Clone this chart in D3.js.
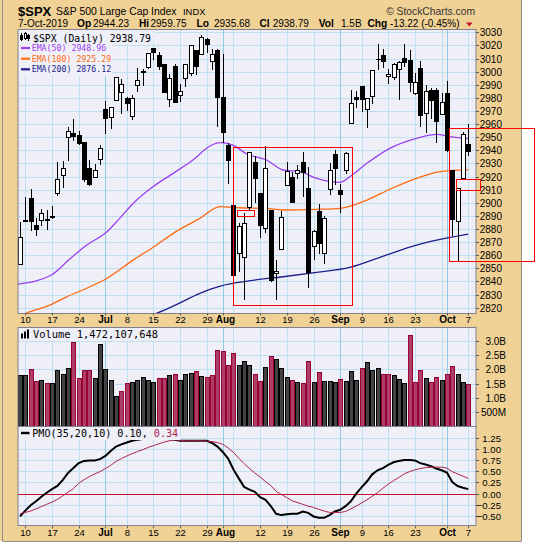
<!DOCTYPE html>
<html><head><meta charset="utf-8">
<script src="https://cdn.jsdelivr.net/npm/d3@7"></script>
<style>body{margin:0;background:#fff}svg{display:block}</style>
</head><body><svg id="c" width="543" height="543"></svg>
<script>
// ---------------- DATA ----------------
const dates = ["2019-06-07","2019-06-10","2019-06-11","2019-06-12","2019-06-13","2019-06-14","2019-06-17","2019-06-18","2019-06-19","2019-06-20","2019-06-21","2019-06-24","2019-06-25","2019-06-26","2019-06-27","2019-06-28","2019-07-01","2019-07-02","2019-07-03","2019-07-05","2019-07-08","2019-07-09","2019-07-10","2019-07-11","2019-07-12","2019-07-15","2019-07-16","2019-07-17","2019-07-18","2019-07-19","2019-07-22","2019-07-23","2019-07-24","2019-07-25","2019-07-26","2019-07-29","2019-07-30","2019-07-31","2019-08-01","2019-08-02","2019-08-05","2019-08-06","2019-08-07","2019-08-08","2019-08-09","2019-08-12","2019-08-13","2019-08-14","2019-08-15","2019-08-16","2019-08-19","2019-08-20","2019-08-21","2019-08-22","2019-08-23","2019-08-26","2019-08-27","2019-08-28","2019-08-29","2019-08-30","2019-09-03","2019-09-04","2019-09-05","2019-09-06","2019-09-09","2019-09-10","2019-09-11","2019-09-12","2019-09-13","2019-09-16","2019-09-17","2019-09-18","2019-09-19","2019-09-20","2019-09-23","2019-09-24","2019-09-25","2019-09-26","2019-09-27","2019-09-30","2019-10-01","2019-10-02","2019-10-03","2019-10-04","2019-10-07"];
const opens = [2852.87,2885.83,2903.27,2882.73,2886.24,2886.82,2889.75,2906.71,2920.55,2949.60,2952.71,2951.42,2945.78,2926.07,2919.66,2932.94,2971.41,2964.66,2978.08,2984.25,2979.77,2965.52,2989.30,2999.62,3003.36,3017.80,3012.13,3005.10,2978.87,3004.26,2981.93,2994.74,2998.77,3016.26,3013.25,3024.47,3007.66,3016.22,2980.32,2943.90,2898.07,2861.18,2858.65,2896.21,2930.51,2907.07,2880.72,2894.15,2846.20,2864.74,2913.48,2919.01,2922.04,2930.94,2911.07,2866.70,2893.14,2861.28,2910.37,2937.09,2909.01,2924.67,2960.60,2980.33,2988.43,2971.01,2981.41,3009.08,3012.21,2996.41,2995.67,3001.50,3010.36,3008.42,2983.50,3002.43,2968.35,2985.73,2985.47,2967.07,2983.69,2924.78,2885.38,2918.56,2944.23];
const highs = [2884.97,2904.77,2910.61,2888.57,2895.24,2894.45,2897.27,2930.79,2931.74,2958.06,2964.15,2954.92,2946.52,2932.59,2929.30,2943.98,2977.93,2973.21,2995.84,2994.03,2980.76,2981.90,3002.98,3002.33,3013.92,3017.80,3015.02,3005.26,2998.28,3006.02,2990.71,3005.90,3019.59,3016.31,3027.98,3025.61,3017.19,3017.40,3013.59,2945.50,2898.07,2884.40,2892.17,2938.72,2935.75,2907.58,2943.31,2894.15,2856.67,2893.63,2931.00,2923.63,2928.73,2939.08,2927.01,2879.27,2898.79,2890.03,2930.50,2940.43,2914.39,2938.84,2985.86,2985.03,2989.43,2979.39,3000.93,3020.74,3017.33,3002.19,3006.21,3007.83,3021.19,3016.37,2999.15,3007.98,2989.82,2987.28,2987.31,2983.85,2992.53,2924.78,2911.13,2953.74,2959.75];
const lows = [2852.87,2885.51,2878.53,2874.68,2881.99,2879.62,2887.30,2905.44,2911.43,2931.50,2946.87,2944.05,2916.01,2912.99,2918.57,2929.05,2952.22,2955.92,2977.96,2967.97,2970.09,2963.44,2984.62,2988.80,3001.87,3008.77,3001.15,2984.25,2973.09,2975.86,2976.65,2988.56,2996.82,2997.24,3012.59,3014.30,3000.94,2958.08,2945.23,2914.11,2822.12,2847.42,2825.71,2894.47,2900.15,2873.14,2877.05,2839.64,2825.51,2864.74,2913.48,2899.60,2917.91,2904.51,2834.97,2856.00,2860.59,2853.05,2905.67,2913.32,2891.85,2921.86,2960.60,2972.51,2969.39,2957.01,2975.31,3000.92,3002.90,2990.67,2993.73,2978.57,3003.16,2984.68,2982.23,2957.73,2952.86,2963.71,2945.53,2967.07,2938.70,2874.93,2855.94,2918.56,2935.68];
const closes = [2873.34,2886.73,2885.72,2879.84,2891.64,2886.98,2889.67,2917.75,2926.46,2954.18,2950.46,2945.35,2917.38,2913.78,2924.92,2941.76,2964.33,2973.01,2995.82,2990.41,2975.95,2979.63,2993.07,2999.91,3013.77,3014.30,3004.04,2984.42,2995.11,2976.61,2985.03,3005.47,3019.56,3003.67,3025.86,3020.97,3013.18,2980.38,2953.56,2932.05,2844.74,2881.77,2883.98,2938.09,2918.65,2882.70,2926.32,2840.60,2847.60,2888.68,2923.65,2900.51,2924.43,2922.95,2847.11,2878.38,2869.16,2887.94,2924.58,2926.46,2906.27,2937.78,2976.00,2978.71,2978.43,2979.39,3000.93,3009.57,3007.39,2997.96,3005.70,3006.73,3006.79,2992.07,2991.78,2966.60,2984.87,2977.62,2961.79,2976.74,2940.25,2887.61,2910.63,2952.01,2938.79];
const prevClose = 2843.49;
// volume in billions of shares
const volumes = [1.80,1.80,2.01,1.59,1.63,1.52,1.52,1.98,1.84,2.05,2.96,1.70,1.98,1.98,1.70,2.89,2.01,1.63,1.06,1.24,1.52,1.56,1.63,1.74,1.63,1.56,1.70,1.70,1.80,1.84,1.63,1.84,1.88,1.94,1.77,1.74,1.80,2.68,2.65,2.15,2.58,2.15,2.30,2.15,1.84,1.59,2.08,2.47,2.37,2.05,1.73,1.63,1.56,1.52,2.30,1.56,1.91,1.59,1.59,1.56,1.66,1.59,1.94,1.63,2.05,2.26,1.98,2.05,1.84,1.84,1.80,1.66,1.52,3.21,1.56,1.98,1.70,1.56,1.73,1.63,1.84,2.12,1.84,1.56,1.472];
// EMA lines (day index, value)
const ema50Idx = [-0.4,5.9,9.1,12.5,16.3,18.1,21.2,24.9,28.7,32.4,35.6,37.5,39.9,42.5,46.2,49.3,52.5,55.6,60,61.8,65,69.3,74.3,78.1,80.6,84];
const ema50Val = [2838,2844.9,2856.3,2867.8,2877.9,2885.5,2899.5,2912.2,2922.4,2932.6,2943.3,2945.8,2944,2937.2,2932.6,2925,2923.7,2918.6,2915.6,2919.9,2930.1,2941.5,2949.1,2952.2,2950.4,2948.96];
const ema100Idx = [-0.4,1.25,5.6,8.75,13.1,16.25,21.2,25.6,28.7,33.7,37.5,41.2,46.2,49.3,55.6,60,65,69.3,74.3,78.7,84];
const ema100Val = [2813.2,2816,2822,2828.3,2836,2842.3,2856.3,2867.8,2876.7,2888.1,2897,2896.2,2895.7,2894.5,2895,2895.8,2902.1,2910.3,2918.6,2923.7,2925.29];
const ema200Idx = [24.3,28.7,33.7,37.5,43.1,49.3,55.6,61.8,68.1,74.3,80.6,84];
const ema200Val = [2813.5,2821.2,2831,2836.5,2840.6,2843.6,2847,2850.8,2859.4,2867.8,2873.6,2876.12];
// PMO(35,20,10) and its signal, one value per day
const pmo = [-0.51,-0.38,-0.26,-0.17,-0.07,0.02,0.10,0.17,0.30,0.46,0.57,0.68,0.73,0.74,0.74,0.77,0.84,0.95,1.05,1.10,1.14,1.18,1.20,1.22,1.23,1.23,1.23,1.23,1.22,1.20,1.18,1.18,1.18,1.18,1.18,1.18,1.13,1.05,0.93,0.78,0.54,0.34,0.15,0.09,0.04,-0.08,-0.14,-0.28,-0.45,-0.48,-0.46,-0.45,-0.45,-0.40,-0.43,-0.51,-0.54,-0.54,-0.48,-0.40,-0.36,-0.28,-0.17,0.00,0.14,0.27,0.43,0.52,0.57,0.64,0.70,0.73,0.75,0.75,0.74,0.68,0.65,0.61,0.56,0.52,0.47,0.26,0.17,0.13,0.10];
const pmoSignal = [-0.45,-0.42,-0.39,-0.34,-0.29,-0.24,-0.19,-0.13,-0.05,0.03,0.11,0.23,0.31,0.38,0.44,0.49,0.56,0.63,0.72,0.78,0.84,0.89,0.94,0.98,1.03,1.07,1.11,1.15,1.18,1.20,1.19,1.18,1.18,1.18,1.18,1.17,1.16,1.14,1.10,1.02,0.92,0.79,0.67,0.56,0.46,0.37,0.27,0.18,0.05,-0.02,-0.09,-0.16,-0.20,-0.24,-0.28,-0.31,-0.35,-0.39,-0.42,-0.42,-0.42,-0.40,-0.34,-0.28,-0.21,-0.14,-0.06,0.02,0.12,0.21,0.29,0.36,0.44,0.49,0.53,0.56,0.58,0.59,0.59,0.59,0.57,0.49,0.44,0.39,0.34];
// axis ticks
const priceTicks = d3.range(2820, 3031, 10);
const volTicks = [0.5,1.0,1.5,2.0,2.5,3.0];
const volTickLabels = ["500M","1.0B","1.5B","2.0B","2.5B","3.0B"];
const pmoTicks = [-0.5,-0.25,0,0.25,0.5,0.75,1.0,1.25];
const weekLines = [1,6,11,16,20,25,30,35,40,45,50,55,60,64,69,74,79,84];
const monthLines = [16,38,60,80];
const xLabelIdx = [1,6,11,16,20,25,30,35,38,45,50,55,60,64,69,74,80,84];
const xLabelText = ["10","17","24","Jul","8","15","22","29","Aug","12","19","26","Sep","9","16","23","Oct","7"];
// annotation boxes (day index range, price range)
const boxI0 = [40.0, 40.75, 80.44, 81.64];
const boxI1 = [62.3, 43.9, 96.36, 86.06];
const boxP0 = [2821.8, 2889.8, 2855.6, 2909.5];
const boxP1 = [2942.3, 2894.2, 2956.8, 2917.9];

// ---------------- DRAW ----------------
const svg = d3.select("#c");
const TAN="#F0D296", PLOT="#EFEFF7", GRID="#BEE0F0", MGRID="#8ECBE6", BORDER="#808090";
const SANS="'Liberation Sans', Arial, sans-serif", MONO="'DejaVu Sans Mono', monospace";
const L=18, R=476;
const P = {top:29.5,bottom:313.5}, V={top:327.5,bottom:426.5}, M={top:426.5,bottom:525.5};

const x = d3.scaleLinear().domain([-0.375, 85.45]).range([L, R]);
const yP = d3.scaleLinear().domain([2820,3030]).range([307.7,32.3]);
const yV = d3.scaleLinear().domain([0,3]).range([426.2,341]);
const yM = d3.scaleLinear().domain([-0.5,1.25]).range([516,437.6]);
const cx = i => Math.round(x(i));

svg.append("rect").attr("width",543).attr("height",543).attr("fill","#fff");
svg.append("rect").attr("x",0).attr("y",0).attr("width",521).attr("height",541).attr("fill",TAN);
svg.append("path").attr("d","M2.5,0V541.5H521.5V0").attr("fill","none").attr("stroke","#8c8c8c");

const defs = svg.append("defs");
function panel(id, p, yTicksPx){
  defs.append("clipPath").attr("id",id).append("rect").attr("x",L).attr("y",p.top).attr("width",R-L).attr("height",p.bottom-p.top);
  svg.append("rect").attr("x",L).attr("y",p.top).attr("width",R-L).attr("height",p.bottom-p.top).attr("fill",PLOT);
  const g = svg.append("g").attr("clip-path",`url(#${id})`);
  g.selectAll(".h").data(yTicksPx).join("line").attr("x1",L).attr("x2",R)
    .attr("y1",d=>Math.round(d)+0.5).attr("y2",d=>Math.round(d)+0.5).attr("stroke",GRID);
  g.selectAll(".w").data(weekLines).join("line").attr("x1",i=>cx(i)+0.5).attr("x2",i=>cx(i)+0.5)
    .attr("y1",p.top).attr("y2",p.bottom).attr("stroke",GRID);
  g.selectAll(".m").data(monthLines).join("line").attr("x1",i=>cx(i)+0.5).attr("x2",i=>cx(i)+0.5)
    .attr("y1",p.top).attr("y2",p.bottom).attr("stroke",MGRID);
  return g;
}

// ---- price panel
const gP = panel("cp", P, priceTicks.map(yP));
const line = d3.line().x(d=>x(d[0])).y(d=>d[1]).curve(d3.curveMonotoneX);
function ema(idx, vals, color){
  gP.append("path").attr("d", line(idx.map((d,k)=>[d, yP(vals[k])]))).attr("fill","none")
    .attr("stroke",color).attr("stroke-width",1.3);
}
ema(ema200Idx, ema200Val, "#1E1E8C");
ema(ema100Idx, ema100Val, "#FF6A10");
ema(ema50Idx, ema50Val, "#9B40EE");
const cg = gP.append("g").attr("shape-rendering","crispEdges");
dates.forEach((d,i)=>{
  const c = cx(i);
  cg.append("line").attr("x1",c+0.5).attr("x2",c+0.5).attr("y1",yP(highs[i])).attr("y2",yP(lows[i])).attr("stroke","#000");
  const t = Math.min(yP(opens[i]),yP(closes[i])), b = Math.max(yP(opens[i]),yP(closes[i]));
  cg.append("rect").attr("x",c-1.5).attr("y",t).attr("width",4).attr("height",Math.max(b-t,0.8))
    .attr("fill", closes[i]>opens[i] ? "#fff" : "#000").attr("stroke","#000");
});
// legend
svg.append("rect").attr("x",L+0.5).attr("y",30).attr("width",135).attr("height",14).attr("fill",PLOT);
svg.append("rect").attr("x",L+0.5).attr("y",43).attr("width",94).attr("height",33).attr("fill",PLOT);
const ic = svg.append("g").attr("shape-rendering","crispEdges");
ic.append("line").attr("x1",21.5).attr("x2",21.5).attr("y1",33).attr("y2",41).attr("stroke","#000");
ic.append("rect").attr("x",20.5).attr("y",35.5).attr("width",2).attr("height",4).attr("fill","#000").attr("stroke","#000");
ic.append("line").attr("x1",25.5).attr("x2",25.5).attr("y1",32).attr("y2",40).attr("stroke","#000");
ic.append("rect").attr("x",24.5).attr("y",33.5).attr("width",2).attr("height",5).attr("fill","#fff").attr("stroke","#000");
ic.append("line").attr("x1",28.5).attr("x2",28.5).attr("y1",34).attr("y2",41).attr("stroke","#000");
ic.append("rect").attr("x",27.5).attr("y",35.5).attr("width",2).attr("height",3).attr("fill","#000").attr("stroke","#000");
svg.append("text").attr("x",33).attr("y",41.7).attr("font-family",MONO).attr("font-size",9.8).attr("fill","#000").text("$SPX (Daily) 2938.79");
[["EMA(50) 2948.96","#9B40EE",51],["EMA(100) 2925.29","#FF6A10",61.7],["EMA(200) 2876.12","#1E1E8C",72.3]].forEach(r=>{
  svg.append("line").attr("x1",21).attr("x2",30).attr("y1",r[2]-3).attr("y2",r[2]-3).attr("stroke",r[1]).attr("stroke-width",2.2);
  svg.append("text").attr("x",31.7).attr("y",r[2]).attr("font-family",MONO).attr("font-size",8.25).attr("fill",r[1]).text(r[0]);
});
svg.append("rect").attr("x",L).attr("y",P.top).attr("width",R-L).attr("height",P.bottom-P.top).attr("fill","none").attr("stroke",BORDER);

// ---- volume panel
const gV = panel("cv", V, volTicks.map(yV));
const vg = gV.append("g").attr("shape-rendering","crispEdges");
volumes.forEach((v,i)=>{
  const up = closes[i] >= (i ? closes[i-1] : prevClose);
  const c = cx(i), t = Math.round(yV(v))+0.5;
  vg.append("rect").attr("x",c-1.5).attr("y",t).attr("width",4).attr("height",yV(0)-t+2)
    .attr("fill", up ? "#434343" : "#AE3D68").attr("stroke", up ? "#000" : "#990033");
});
svg.append("rect").attr("x",L+0.5).attr("y",328).attr("width",144).attr("height",13).attr("fill",PLOT);
[[21,5],[24,7],[27,9]].forEach(b=>svg.append("rect").attr("x",b[0]).attr("y",338.5-b[1]).attr("width",2).attr("height",b[1]).attr("fill","#000"));
svg.append("text").attr("x",33).attr("y",338.3).attr("font-family",MONO).attr("font-size",10.4).attr("fill","#000").text("Volume 1,472,107,648");
svg.append("rect").attr("x",L).attr("y",V.top).attr("width",R-L).attr("height",V.bottom-V.top).attr("fill","none").attr("stroke",BORDER);

// ---- PMO panel
const gM = panel("cm", M, pmoTicks.filter(d=>d!==0).map(yM));
gM.append("line").attr("x1",L).attr("x2",R).attr("y1",Math.round(yM(0))+0.5).attr("y2",Math.round(yM(0))+0.5).attr("stroke","#C8102E");
const pl = d3.line().x((d,i)=>x(i)).y(d=>yM(d));
gM.append("path").attr("d",pl(pmo)).attr("fill","none").attr("stroke","#000").attr("stroke-width",2);
svg.append("rect").attr("x",L+0.5).attr("y",427).attr("width",162).attr("height",13).attr("fill",PLOT);
gM.append("path").attr("d",pl(pmoSignal)).attr("fill","none").attr("stroke","#B0204F").attr("stroke-width",1);
svg.append("line").attr("x1",21).attr("x2",29.5).attr("y1",433).attr("y2",433).attr("stroke","#000").attr("stroke-width",2.4);
const pt = svg.append("text").attr("x",32.3).attr("y",436.7).attr("font-family",MONO).attr("font-size",10.1);
pt.append("tspan").attr("fill","#000").text("PMO(35,20,10) 0.10, ");
pt.append("tspan").attr("fill","#B0204F").text("0.34");
svg.append("rect").attr("x",L).attr("y",M.top).attr("width",R-L).attr("height",M.bottom-M.top).attr("fill","none").attr("stroke",BORDER);

// ---- right axes
function rAxis(ticks, labels, scale, xEnd, size){
  ticks.forEach((t,k)=>{
    const yy = Math.round(scale(t))+0.5;
    svg.append("line").attr("x1",R).attr("x2",R+3).attr("y1",yy).attr("y2",yy).attr("stroke","#555");
    svg.append("text").attr("x",xEnd).attr("y",yy).attr("dy","0.36em").attr("text-anchor","end")
      .attr("font-family",SANS).attr("font-size",size).attr("fill","#000").text(labels[k]);
  });
}
rAxis(priceTicks, priceTicks.map(String), yP, 502, 10);
rAxis(volTicks, volTickLabels, yV, 506, 10);
rAxis(pmoTicks, pmoTicks.map(d=>d3.format(".2f")(d)), yM, 501, 9.6);

// ---- x axis labels (two rows)
[323.4, 536.3].forEach(by=>{
  xLabelIdx.forEach((i,k)=>{
    const isM = monthLines.includes(i);
    svg.append("line").attr("x1",cx(i)+0.5).attr("x2",cx(i)+0.5).attr("y1",by-10).attr("y2",by-8).attr("stroke","#555");
    svg.append("text").attr("x",cx(i)+0.5 + (xLabelText[k]==="Aug"?2:0)).attr("y",by).attr("text-anchor","middle")
      .attr("font-family",SANS).attr("font-size",isM?10:9.5).attr("font-weight",isM?"bold":"normal")
      .attr("fill","#000").text(xLabelText[k]);
  });
});

// ---- header
const hdr = svg.append("g").attr("font-family",SANS).attr("fill","#000");
hdr.append("text").attr("x",18).attr("y",15.5).attr("font-size",13).attr("font-weight","bold").text("$SPX");
hdr.append("text").attr("x",56).attr("y",15).attr("font-size",10.4).text("S&P 500 Large Cap Index");
hdr.append("text").attr("x",183).attr("y",15).attr("font-size",9.4).text("INDX");
hdr.append("text").attr("x",475).attr("y",15).attr("text-anchor","end").attr("font-size",10.3).attr("fill","#333").text("© StockCharts.com");
const parts = [["7-Oct-2019",18,false],["Op",77,true],["2944.23",93,false],["Hi",139,true],["2959.75",150.5,false],
  ["Lo",196.5,true],["2935.68",214,false],["Cl",259.5,true],["2938.79",272.7,false],["Vol",318.7,true],["1.5B",341,false],
  ["Chg",367.5,true],["-13.22 (-0.45%)",390,false]];
parts.forEach(p=>hdr.append("text").attr("x",p[1]).attr("y",27).attr("font-size",p[2]?10.2:10)
  .attr("font-weight",p[2]?"bold":"normal").text(p[0]));
svg.append("path").attr("d","M466,22.5L472.5,22.5L469.25,26.5Z").attr("fill","#C8102E");

// ---- annotation boxes
boxI0.forEach((b,k)=>{
  const x0=x(b), x1=x(boxI1[k]), y0=yP(boxP1[k]), y1=yP(boxP0[k]);
  svg.append("rect").attr("x",Math.round(x0)+0.5).attr("y",Math.round(y0)+0.5)
    .attr("width",Math.round(x1-x0)).attr("height",Math.round(y1-y0))
    .attr("fill","none").attr("stroke","#FF0000").attr("stroke-width",1);
});
</script></body></html>
